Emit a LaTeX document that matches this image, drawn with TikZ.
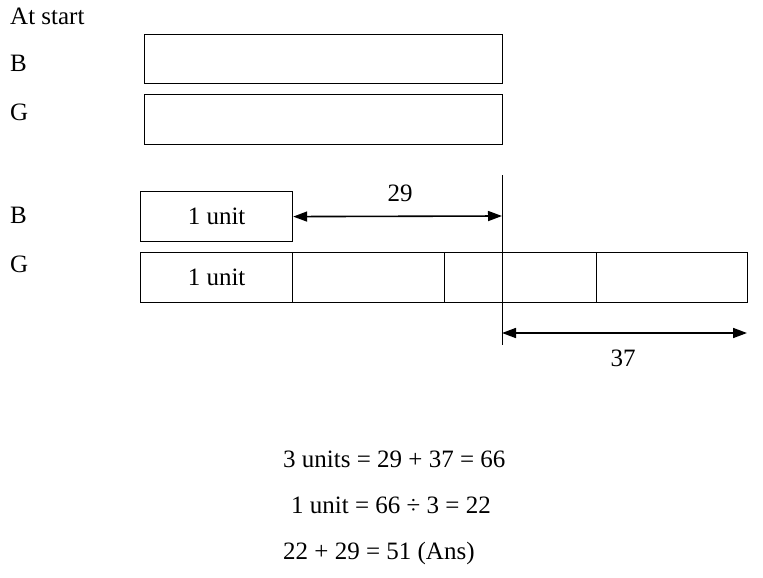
\documentclass[tikz,border=0pt]{standalone}
\usepackage{fontspec}
\setmainfont{Liberation Serif}
\usetikzlibrary{arrows.meta}

\begin{document}
\begin{tikzpicture}[x=1pt,y=-1pt,
	bar/.style={draw,line width=1.2pt,inner sep=0pt,anchor=north west,minimum height=50pt,font=\fontsize{25}{28}\selectfont},
	lbl/.style={anchor=base west,inner sep=0pt,font=\fontsize{25}{28}\selectfont},
	num/.style={anchor=base,inner sep=0pt,font=\fontsize{25}{28}\selectfont},
	gap/.style={line width=1.6pt,{Triangle[length=14pt,width=10pt]}-{Triangle[length=14pt,width=10pt]}}]
		\useasboundingbox (0,0) rectangle (763,578);
		% labels
		\node[lbl] (start) at (10,25) {At start};
		\node[lbl] (b1) at (10,72) {B};
		\node[lbl] (g1) at (10,121) {G};
		\node[lbl] (b2) at (10,223) {B};
		\node[lbl] (g2) at (10,272) {G};
		% bars at start
		\node[bar,minimum width=358pt,minimum height=49pt] (startB) at (144,34) {};
		\node[bar,minimum width=358pt] (startG) at (144,94) {};
		% bars after
		\node[bar,minimum width=152pt] (endB) at (140,191) {1 unit};
		\node[bar,minimum width=152pt] (u1) at (140,252) {1 unit};
		\node[bar,minimum width=152pt] (u2) at (292,252) {};
		\node[bar,minimum width=58pt] (u3) at (444,252) {};
		\node[bar,minimum width=94pt] (u4) at (502,252) {};
		\node[bar,minimum width=151pt] (u5) at (596,252) {};
		% vertical line
		\coordinate (top) at (502,175);
		\coordinate (bot) at (502,345);
		\draw[line width=0.9pt] (top) -- (bot);
		% differences
		\coordinate (a29) at (502,216);
		\coordinate (s37) at (502,333);
		\coordinate (e37) at (747,333);
		\draw[gap] (endB.east) -- (a29);
		\draw[gap] (s37) -- (e37);
		\node[num] (n29) at (400,201) {29};
		\node[num] (n37) at (623,366) {37};
		% working
		\node[lbl] (w1) at (283,467) {3 units = 29 + 37 = 66};
		\node[lbl] (w2) at (291,513) {1 unit = 66 ÷ 3 = 22};
		\node[lbl] (w3) at (283,559) {22 + 29 = 51 (Ans)};
	\end{tikzpicture}
\end{document}
